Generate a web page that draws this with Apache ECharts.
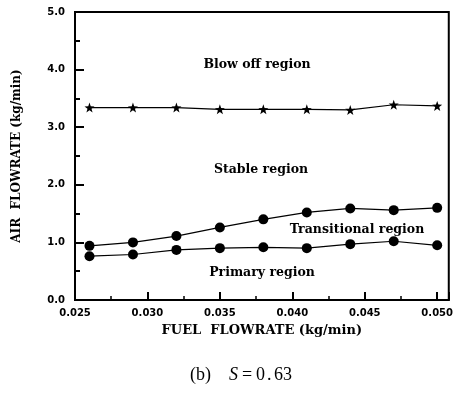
<!DOCTYPE html>
<html><head><meta charset="utf-8">
<script src="https://cdn.jsdelivr.net/npm/echarts@6/dist/echarts.min.js"></script>
<style>html,body{margin:0;padding:0;background:#fff}#c{width:456px;height:394px}</style>
</head><body><div id="c"></div>
<script>
const fuelFlow = [0.026, 0.029, 0.032, 0.035, 0.038, 0.041, 0.044, 0.047, 0.050];
const blowOff = [3.34, 3.34, 3.34, 3.31, 3.31, 3.31, 3.30, 3.39, 3.37];
const transitional = [0.94, 1.00, 1.11, 1.26, 1.40, 1.52, 1.59, 1.56, 1.60];
const primary = [0.76, 0.79, 0.87, 0.90, 0.915, 0.90, 0.97, 1.02, 0.95];
const xTicks = [0.025, 0.030, 0.035, 0.040, 0.045, 0.050];
const regionLabels = [
  {text: 'Blow off region', x: 257, y: 65},
  {text: 'Stable region', x: 261, y: 170},
  {text: 'Transitional region', x: 357, y: 230},
  {text: 'Primary region', x: 262, y: 273}
];
const captionParts = [
  {text: '(b)', x: 190, italic: false},
  {text: 'S', x: 229, italic: true},
  {text: '=', x: 242, italic: false},
  {text: '0', x: 256, italic: false},
  {text: '.', x: 267, italic: false},
  {text: '63', x: 274, italic: false}
];
const SERIF = 'DejaVu Serif';
const SANS = 'DejaVu Sans';
const chart = echarts.init(document.getElementById('c'));
const pair = arr => fuelFlow.map((x, i) => [x, arr[i]]);
const lineSeries = (name, data, symbol, size) => ({
  name, type: 'line', data: pair(data), symbol, symbolSize: size,
  itemStyle: {color: '#000'}, lineStyle: {color: '#000', width: 1.2},
  animation: false, z: 3
});
chart.setOption({
  animation: false,
  grid: {left: 75, right: 6, top: 12, bottom: 94, show: true, borderColor: '#000', borderWidth: 2, backgroundColor: 'transparent'},
  xAxis: {
    type: 'value', min: 0.025, max: 0.0508, interval: 0.005,
    name: 'FUEL  FLOWRATE (kg/min)', nameLocation: 'middle', nameGap: 24,
    nameTextStyle: {fontFamily: SERIF, fontWeight: 'bold', fontSize: 13, color: '#000'},
    axisLine: {show: true, lineStyle: {color: '#000', width: 2}},
    axisTick: {show: true, inside: true, length: 8, lineStyle: {color: '#000', width: 2}},
    minorTick: {show: true, splitNumber: 2, length: 4, lineStyle: {color: '#000', width: 1.5}},
    splitLine: {show: false},
    axisLabel: {fontFamily: SANS, fontWeight: 'bold', fontSize: 10, color: '#000', margin: 8,
      showMaxLabel: false,
      formatter: v => xTicks.some(t => Math.abs(t - v) < 1e-6) ? v.toFixed(3) : ''}
  },
  yAxis: {
    type: 'value', min: 0, max: 5, interval: 1,
    name: 'AIR  FLOWRATE (kg/min)', nameLocation: 'middle', nameGap: 52,
    nameTextStyle: {fontFamily: SERIF, fontWeight: 'bold', fontSize: 12, color: '#000'},
    axisLine: {show: true, lineStyle: {color: '#000', width: 2}},
    axisTick: {show: true, inside: true, length: 9, lineStyle: {color: '#000', width: 2}},
    minorTick: {show: true, splitNumber: 2, length: 5, lineStyle: {color: '#000', width: 2}},
    splitLine: {show: false},
    axisLabel: {fontFamily: SANS, fontWeight: 'bold', fontSize: 10, color: '#000', margin: 10,
      formatter: v => v.toFixed(1)}
  },
  series: [
    lineSeries('Blow off', blowOff, 'path://M0,-10 L2.35,-3.24 L9.51,-3.09 L3.8,1.24 L5.88,8.09 L0,4 L-5.88,8.09 L-3.8,1.24 L-9.51,-3.09 L-2.35,-3.24 Z', 10),
    lineSeries('Transitional', transitional, 'circle', 10),
    lineSeries('Primary', primary, 'circle', 10)
  ],
  graphic: regionLabels.map(r => ({
    type: 'text', x: r.x, y: r.y,
    style: {text: r.text, fontFamily: SERIF, fontWeight: 'bold', fontSize: 12.5, fill: '#000', align: 'center', verticalAlign: 'middle'}
  })).concat(captionParts.map(p => ({
    type: 'text', x: p.x, y: 375,
    style: {text: p.text, fontFamily: 'Liberation Serif', fontStyle: p.italic ? 'italic' : 'normal', fontSize: 18, fill: '#000', align: 'left', verticalAlign: 'middle'}
  })))
});
</script></body></html>
